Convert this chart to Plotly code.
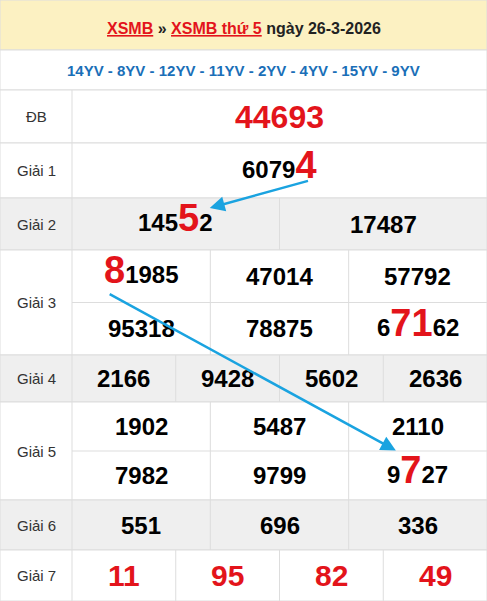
import plotly.graph_objects as go

W, H = 487, 601
title_parts = ["XSMB", " » ", "XSMB thứ 5", " ngày 26-3-2026"]
codes = "14YV - 8YV - 12YV - 11YV - 2YV - 4YV - 15YV - 9YV"
prize_names = ["ĐB", "Giải 1", "Giải 2", "Giải 3", "Giải 4", "Giải 5", "Giải 6", "Giải 7"]
prize_values = [
    ["44693"],
    ["60794"],
    ["14552", "17487"],
    ["81985", "47014", "57792", "95318", "78875", "67162"],
    ["2166", "9428", "5602", "2636"],
    ["1902", "5487", "2110", "7982", "9799", "9727"],
    ["551", "696", "336"],
    ["11", "95", "82", "49"],
]
prize_cols = [1, 1, 2, 3, 4, 3, 3, 4]
# highlighted digits: (prize index, value index, start, end)
highlights = [(1, 0, 4, 5), (2, 0, 3, 4), (3, 0, 0, 1), (3, 5, 1, 3), (5, 5, 1, 2)]
# arrows: (from prize, value, to prize, value)
arrows = [(1, 0, 2, 0), (3, 0, 5, 5)]

row_edges = [90, 143, 198, 250, 355, 402, 500, 550, 601]
left = 72
shapes, ann = [], []
line = dict(color="#dddddd", width=1)

shapes.append(dict(type="rect", x0=0, x1=W, y0=0, y1=50, fillcolor="#fcf1c2", line=line))
shapes.append(dict(type="rect", x0=0, x1=W, y0=50, y1=90, fillcolor="white", line=line))
t = (f"<b><span style='color:#e3141b'><u>{title_parts[0]}</u></span>{title_parts[1]}"
     f"<span style='color:#e3141b'><u>{title_parts[2]}</u></span>{title_parts[3]}</b>")
ann.append(dict(x=W / 2, y=28, text=t, showarrow=False, font=dict(size=16, color="#222", family="Liberation Sans")))
ann.append(dict(x=W / 2, y=70, text=f"<b>{codes}</b>", showarrow=False,
                font=dict(size=15, color="#1a6fb8", family="Liberation Sans")))

centers = {}
for i, name in enumerate(prize_names):
    y0, y1 = row_edges[i], row_edges[i + 1]
    fill = "#efefef" if i in (2, 4, 6) else "white"
    shapes.append(dict(type="rect", x0=0, x1=W, y0=y0, y1=y1, fillcolor=fill, line=line))
    shapes.append(dict(type="line", x0=left, x1=left, y0=y0, y1=y1, line=line))
    ann.append(dict(x=36, y=(y0 + y1) / 2, text=name, showarrow=False,
                    font=dict(size=15, color="#333", family="Liberation Sans")))
    vals = prize_values[i]
    nc = prize_cols[i]
    nr = len(vals) // nc
    cw = (W - left) / nc
    rh = (y1 - y0) / nr
    for c in range(1, nc):
        shapes.append(dict(type="line", x0=left + c * cw, x1=left + c * cw, y0=y0, y1=y1, line=line))
    for r in range(1, nr):
        shapes.append(dict(type="line", x0=left, x1=W, y0=y0 + r * rh, y1=y0 + r * rh, line=line))
    for k, v in enumerate(vals):
        r, c = divmod(k, nc)
        cx, cy = left + (c + 0.5) * cw, y0 + (r + 0.5) * rh
        centers[(i, k)] = (cx, cy)
        red = i in (0, 7)
        size = 32 if i == 0 else (30 if i == 7 else 24)
        txt = v
        dy = 0
        for (p, q, s, e) in highlights:
            if p == i and q == k:
                txt = v[:s] + f"<span style='color:#e3141b;font-size:38px'>{v[s:e]}</span>" + v[e:]
                dy = -6
        ann.append(dict(x=cx, y=cy + dy, text=f"<b>{txt}</b>", showarrow=False,
                        font=dict(size=size, color="#e3141b" if red else "black", family="Liberation Sans")))

offs = [((30, 10), (34, -16)), ((-33, 17), (-22, -25))]
for (a, b, c, d), (o1, o2) in zip(arrows, offs):
    sx, sy = centers[(a, b)]
    ex, ey = centers[(c, d)]
    ann.append(dict(x=ex + o2[0], y=ey + o2[1], ax=sx + o1[0], ay=sy + o1[1], axref="x", ayref="y",
                    xref="x", yref="y", text="", showarrow=True, arrowhead=2, arrowsize=1.2,
                    arrowwidth=2.5, arrowcolor="#1aa3e0"))

fig = go.Figure()
fig.update_layout(width=W, height=H, margin=dict(l=0, r=0, t=0, b=0),
                  xaxis=dict(range=[0, W], visible=False, fixedrange=True),
                  yaxis=dict(range=[H, 0], visible=False, fixedrange=True),
                  plot_bgcolor="white", paper_bgcolor="white", shapes=shapes, annotations=ann)
fig.write_html("out.html", config={"displayModeBar": False},
               post_script="document.body.style.margin='0';document.body.style.overflow='hidden';")
